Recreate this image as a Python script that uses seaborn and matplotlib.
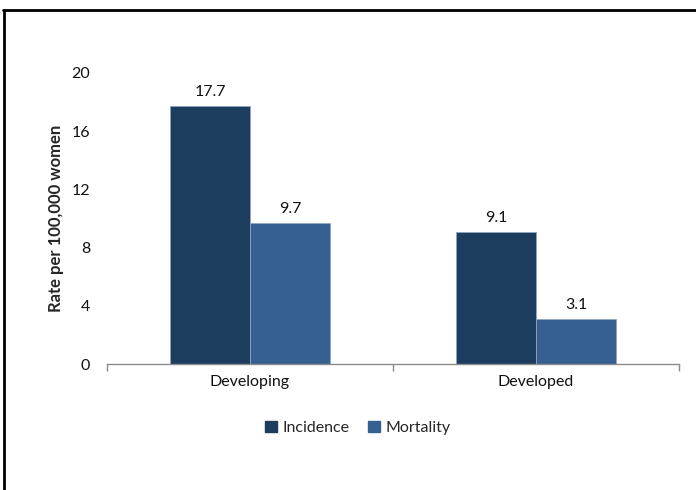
import pandas as pd
import seaborn as sns
import matplotlib.pyplot as plt
from matplotlib.lines import Line2D
from matplotlib.patches import Patch

# Chart data
regions = ['Developing', 'Developed']
measures = ['Incidence', 'Mortality']
incidence = [17.7, 9.1]
mortality = [9.7, 3.1]
y_ticks = [0, 4, 8, 12, 16, 20]

df = pd.DataFrame({
    'Region': regions * 2,
    'Measure': [measures[0]] * len(regions) + [measures[1]] * len(regions),
    'Rate': incidence + mortality,
})

sns.set_style('white')
plt.rcParams['font.family'] = ['Lato', 'DejaVu Sans']

colors = {'Incidence': '#1c3d5e', 'Mortality': '#36608f'}
fs = 11.5

fig = plt.figure(figsize=(6.96, 4.90), dpi=100)
ax = fig.add_axes([0.1537, 0.2571, 0.8219, 0.594])

sns.barplot(data=df, x='Region', y='Rate', hue='Measure', order=regions,
            hue_order=measures, palette=colors, saturation=1, width=0.56,
            ax=ax, edgecolor='#8fa6c2', linewidth=0.6, legend=False)

# value labels
for container in ax.containers:
    ax.bar_label(container, fmt='%.1f', padding=5, fontsize=fs, color='#111111')

ax.set_xlim(-0.5, 1.5)
ax.set_ylim(0, 20)
ax.set_yticks(y_ticks)
ax.tick_params(axis='y', length=0, labelsize=fs, pad=12, colors='#111111')
ax.set_xlabel('')
ax.set_ylabel('Rate per 100,000 women', fontsize=12, fontweight='bold')
ax.yaxis.set_label_coords(-0.075, 0.5)

# x axis: ticks at category boundaries, labels centered
ax.set_xticks([-0.5, 0.5, 1.5])
ax.set_xticklabels([])
ax.set_xticks([0, 1], minor=True)
ax.set_xticklabels(regions, minor=True, fontsize=fs, color='#111111')
ax.tick_params(axis='x', which='major', direction='out', length=5, width=1,
               color='#8c8c8c', bottom=True)
ax.tick_params(axis='x', which='minor', length=0, pad=8)

for side in ['top', 'right', 'left']:
    ax.spines[side].set_visible(False)
ax.spines['bottom'].set_color('#8c8c8c')
ax.spines['bottom'].set_linewidth(1)

handles = [Patch(facecolor=colors[m], edgecolor=colors[m]) for m in measures]
fig.legend(handles, measures, loc='center', bbox_to_anchor=(0.514, 0.127),
           ncol=2, frameon=False, fontsize=fs, handlelength=0.75,
           handleheight=0.75, handletextpad=0.35, columnspacing=1.2)

# partial frame around the figure (top and left only)
fig.add_artist(Line2D([0.005, 1.0], [0.979, 0.979], color='black', linewidth=2,
                      transform=fig.transFigure))
fig.add_artist(Line2D([0.006, 0.006], [0.0, 0.979], color='black', linewidth=2,
                      transform=fig.transFigure))

fig.savefig('out.png', dpi=100)
